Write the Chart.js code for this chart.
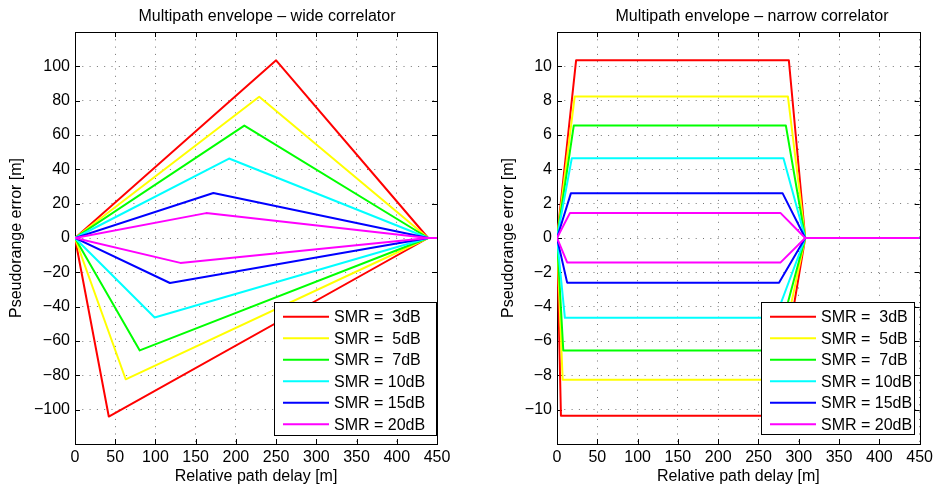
<!DOCTYPE html>
<html>
<head>
<meta charset="utf-8">
<script src="https://cdn.jsdelivr.net/npm/chart.js@4.4.0/dist/chart.umd.min.js"></script>
<style>
  body { margin: 0; background: #fff; }
  #wrap { position: relative; width: 937px; height: 488px; }
  canvas { position: absolute; top: 0; }
</style>
</head>
<body>
<div id="wrap">
  <canvas id="wideChart" width="470" height="488" style="left:0;width:470px;height:488px"></canvas>
  <canvas id="narrowChart" width="467" height="488" style="left:470px;width:467px;height:488px"></canvas>
</div>
<script>
// legend labels + line colours (one per SMR)
const smrLabels = ["SMR =  3dB", "SMR =  5dB", "SMR =  7dB", "SMR = 10dB", "SMR = 15dB", "SMR = 20dB"];
const smrColors = ["#ff0000", "#ffff00", "#00ff00", "#00ffff", "#0000ff", "#ff00ff"];

// tick labels
const delayTicks = [0, 50, 100, 150, 200, 250, 300, 350, 400, 450];
const wideErrorTicks = [-100, -80, -60, -40, -20, 0, 20, 40, 60, 80, 100];
const narrowErrorTicks = [-10, -8, -6, -4, -2, 0, 2, 4, 6, 8, 10];

// wide correlator - corner points of each envelope (delay m, error m)
const wideEnd = 439;
const widePeakDelay = [250, 229, 210.5, 191.5, 172, 163];
const widePeakError = [103.5, 82.3, 65.5, 46.3, 26.2, 14.5];
const wideDipDelay = [42, 63, 80.5, 99, 118, 131];
const wideDipError = [-104, -82.3, -65.5, -46.3, -26.2, -14.5];

// narrow correlator - flat tops / bottoms
const narrowEnd = 308;
const narrowUpError = [10.35, 8.25, 6.55, 4.65, 2.6, 1.45];
const narrowUpStart = [23.7, 22, 20.8, 18.4, 17.2, 16];
const narrowUpStop = [287.7, 286.5, 284, 281, 280, 277.5];
const narrowDownError = [-10.35, -8.25, -6.55, -4.65, -2.6, -1.42];
const narrowDownStart = [4.9, 7, 7.8, 9.8, 12.6, 12.6];
const narrowDownStop = [271, 270.5, 270.5, 271, 275.5, 277.5];

const FONT = "'Liberation Sans', Arial, Helvetica, sans-serif";

function widePath(i) {
    return [
        {x: 450, y: 0}, {x: wideEnd, y: 0},
        {x: widePeakDelay[i], y: widePeakError[i]},
        {x: 0, y: 0},
        {x: wideDipDelay[i], y: wideDipError[i]},
        {x: wideEnd, y: 0}
    ];
}

function narrowPath(i) {
    return [
        {x: 450, y: 0}, {x: narrowEnd, y: 0},
        {x: narrowUpStop[i], y: narrowUpError[i]},
        {x: narrowUpStart[i], y: narrowUpError[i]},
        {x: 0, y: 0},
        {x: narrowDownStart[i], y: narrowDownError[i]},
        {x: narrowDownStop[i], y: narrowDownError[i]},
        {x: narrowEnd, y: 0}
    ];
}

// box, inward ticks, title and legend like the matlab figure
const matlabAxes = {
    id: "matlabAxes",
    beforeDatasetsDraw(chart) {
        let ctx = chart.ctx, ca = chart.chartArea;
        let xs = chart.scales.x, ys = chart.scales.y;
        ctx.save();
        ctx.strokeStyle = "#000";
        ctx.lineWidth = 1;
        ctx.beginPath();
        xs.ticks.forEach(t => {
            let px = Math.round(xs.getPixelForValue(t.value)) + 0.5;
            ctx.moveTo(px, ca.bottom); ctx.lineTo(px, ca.bottom - 5);
            ctx.moveTo(px, ca.top); ctx.lineTo(px, ca.top + 5);
        });
        ys.ticks.forEach(t => {
            let py = Math.round(ys.getPixelForValue(t.value)) + 0.5;
            ctx.moveTo(ca.left, py); ctx.lineTo(ca.left + 5, py);
            ctx.moveTo(ca.right, py); ctx.lineTo(ca.right - 5, py);
        });
        ctx.stroke();
        ctx.strokeRect(Math.round(ca.left) + 0.5, Math.round(ca.top) + 0.5,
            Math.round(ca.right - ca.left), Math.round(ca.bottom - ca.top));
        ctx.restore();
    },
    afterDatasetsDraw(chart, args, opts) {
        let ctx = chart.ctx;
        ctx.save();
        ctx.fillStyle = "#000";
        ctx.font = "16px " + FONT;
        ctx.textAlign = "center";
        ctx.textBaseline = "middle";
        ctx.fillText(opts.title, opts.titleX, 17);

        let lg = opts.legend;
        ctx.fillStyle = "#fff";
        ctx.fillRect(lg.left, lg.top, lg.width, lg.height);
        ctx.strokeStyle = "#000";
        ctx.lineWidth = 1;
        ctx.strokeRect(lg.left + 0.5, lg.top + 0.5, lg.width, lg.height);
        ctx.textAlign = "left";
        ctx.lineWidth = 2;
        smrLabels.forEach((label, i) => {
            let y = lg.top + 14.7 + i * 21.5;
            ctx.strokeStyle = smrColors[i];
            ctx.beginPath();
            ctx.moveTo(lg.left + 9, y);
            ctx.lineTo(lg.left + 55, y);
            ctx.stroke();
            ctx.fillStyle = "#000";
            ctx.fillText(label, lg.left + 60, y + 1);
        });
        ctx.restore();
    }
};

function tickText(v) {
    return v < 0 ? "\u2212" + Math.abs(v) : String(v);
}

function makeChart(id, makePath, yMin, yMax, yTicks, yWidth, yTitlePad, padRight, frame) {
    let datasets = smrLabels.map((label, i) => ({
        label: label,
        data: makePath(i),
        borderColor: smrColors[i],
        backgroundColor: smrColors[i],
        borderWidth: 2,
        borderJoinStyle: "round",
        pointRadius: 0,
        fill: false,
        tension: 0,
        order: smrLabels.length - i
    }));
    return new Chart(document.getElementById(id), {
        type: "line",
        data: { datasets: datasets },
        options: {
            responsive: false,
            animation: false,
            devicePixelRatio: 1,
            layout: { padding: { top: 32, right: padRight, bottom: 0, left: 0 } },
            plugins: {
                legend: { display: false },
                tooltip: { enabled: false },
                title: { display: false },
                matlabAxes: frame
            },
            scales: {
                x: {
                    type: "linear", min: 0, max: 450,
                    afterBuildTicks: s => { s.ticks = delayTicks.map(v => ({value: v})); },
                    afterFit: s => { s.height = 44; },
                    grid: { color: "rgba(0,0,0,0.55)", lineWidth: 1, drawTicks: false },
                    border: { display: false, dash: [1, 6.3] },
                    ticks: { color: "#000", font: { size: 16, family: FONT }, padding: 4, maxRotation: 0, autoSkip: false },
                    title: { display: true, text: "Relative path delay [m]", color: "#000",
                        font: { size: 16, family: FONT }, padding: { top: 0, bottom: 2 } }
                },
                y: {
                    type: "linear", min: yMin, max: yMax,
                    afterBuildTicks: s => { s.ticks = yTicks.map(v => ({value: v})); },
                    afterFit: s => { s.width = yWidth; },
                    grid: { color: "rgba(0,0,0,0.55)", lineWidth: 1, drawTicks: false },
                    border: { display: false, dash: [1, 6.3] },
                    ticks: { color: "#000", font: { size: 16, family: FONT }, padding: 5, callback: tickText },
                    title: { display: true, text: "Pseudorange error [m]", color: "#000",
                        font: { size: 16, family: FONT }, padding: { top: yTitlePad, bottom: 0 } }
                }
            }
        },
        plugins: [matlabAxes]
    });
}

makeChart("wideChart", widePath, -120, 120, wideErrorTicks, 75, 7.4, 33, {
    title: "Multipath envelope \u2013 wide correlator",
    titleX: 267,
    legend: { left: 274, top: 302, width: 162, height: 133 }
});

makeChart("narrowChart", narrowPath, -12, 12, narrowErrorTicks, 87, 29, 13, {
    title: "Multipath envelope \u2013 narrow correlator",
    titleX: 282,
    legend: { left: 291, top: 302, width: 153, height: 132 }
});
</script>
</body>
</html>
